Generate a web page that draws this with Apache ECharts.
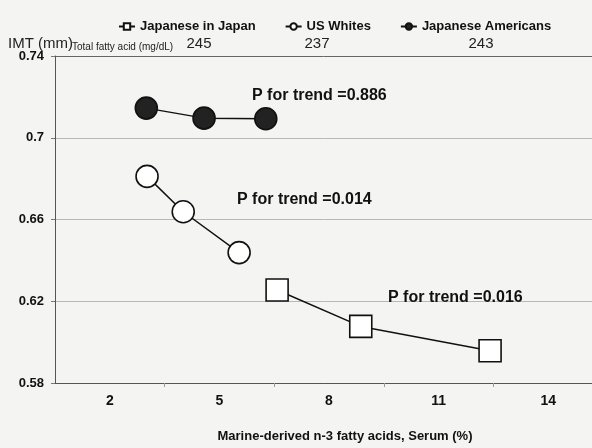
<!DOCTYPE html>
<html>
<head>
<meta charset="utf-8">
<script src="https://cdn.jsdelivr.net/npm/echarts@6/dist/echarts.min.js"></script>
<style>
html,body{margin:0;padding:0;background:#f4f4f2;}
#c{width:592px;height:448px;}
</style>
</head>
<body>
<div id="c"></div>
<script>
// Data
const seriesNames = ['Japanese in Japan', 'US Whites', 'Japanese Americans'];
const japanJapanX = [6.58, 8.87, 12.41];
const japanJapanY = [0.6255, 0.6077, 0.5958];
const usWhitesX = [3.02, 4.01, 5.54];
const usWhitesY = [0.6811, 0.6638, 0.6438];
const japanAmericansX = [3.0, 4.58, 6.27];
const japanAmericansY = [0.7145, 0.7096, 0.7093];
const xTickLabels = [2, 5, 8, 11, 14];
const xMinorTicks = [3.5, 6.5, 9.5, 12.5];
const yTickLabels = [0.58, 0.62, 0.66, 0.70, 0.74];
const totalFattyAcid = ['245', '237', '243'];
const trendTexts = ['P for trend =0.886', 'P for trend =0.014', 'P for trend =0.016'];

const FF = 'Liberation Sans, Arial, sans-serif';
const zip = (xs, ys) => xs.map((x, i) => [x, ys[i]]);

function mkSeries(name, xs, ys, symbol, fill) {
  return {
    name: name,
    type: 'line',
    data: zip(xs, ys),
    symbol: symbol,
    symbolSize: 22,
    lineStyle: { color: '#111', width: 1.5 },
    itemStyle: { color: fill, borderColor: '#111', borderWidth: 1.6 },
    emphasis: { disabled: true },
    z: 3
  };
}

const chart = echarts.init(document.getElementById('c'), null, { renderer: 'canvas' });
chart.setOption({
  backgroundColor: '#f4f4f2',
  animation: false,
  textStyle: { fontFamily: FF },
  legend: {
    data: seriesNames,
    left: 113,
    top: 15,
    itemWidth: 16,
    itemHeight: 8,
    itemGap: 29,
    textStyle: { fontFamily: FF, fontSize: 13, fontWeight: 'bold', color: '#111' }
  },
  grid: { left: 55, right: 0, top: 56, bottom: 64, containLabel: false },
  xAxis: {
    type: 'value',
    min: 0.5,
    max: 15.2,
    name: 'Marine-derived n-3 fatty acids, Serum (%)',
    nameLocation: 'middle',
    nameGap: 47,
    nameTextStyle: { fontFamily: FF, fontSize: 13, fontWeight: 'bold', color: '#111', padding: [0, 0, 0, 43] },
    axisLine: { show: true, lineStyle: { color: '#555', width: 1 } },
    axisTick: { show: true, customValues: xMinorTicks, length: 4, lineStyle: { color: '#999' } },
    axisLabel: { customValues: xTickLabels, margin: 11, fontFamily: FF, fontSize: 14, fontWeight: 'bold', color: '#111' },
    splitLine: { show: false }
  },
  yAxis: {
    type: 'value',
    min: 0.58,
    max: 0.74,
    axisLine: { show: true, lineStyle: { color: '#555', width: 1 } },
    axisTick: { show: true, customValues: yTickLabels, length: 4, lineStyle: { color: '#777' } },
    axisLabel: { customValues: yTickLabels, margin: 11, fontFamily: FF, fontSize: 13, fontWeight: 'bold', color: '#111' },
    splitLine: { show: true, lineStyle: { color: ['#555', '#b8b8b8', '#b8b8b8', '#b8b8b8', '#666'], width: 1 } }
  },
  series: [
    mkSeries(seriesNames[0], japanJapanX, japanJapanY, 'rect', '#fff'),
    mkSeries(seriesNames[1], usWhitesX, usWhitesY, 'circle', '#fff'),
    mkSeries(seriesNames[2], japanAmericansX, japanAmericansY, 'circle', '#222')
  ],
  graphic: [
    { type: 'text', left: 8, top: 36, style: { text: 'IMT (mm)', font: '15px ' + FF, fill: '#222' } },
    { type: 'text', left: 72, top: 42, style: { text: 'Total fatty acid (mg/dL)', font: '10px ' + FF, fill: '#222' } },
    { type: 'text', x: 199, y: 44, style: { text: totalFattyAcid[0], font: '15px ' + FF, fill: '#222', align: 'center', verticalAlign: 'middle' } },
    { type: 'text', x: 317, y: 44, style: { text: totalFattyAcid[1], font: '15px ' + FF, fill: '#222', align: 'center', verticalAlign: 'middle' } },
    { type: 'text', x: 481, y: 44, style: { text: totalFattyAcid[2], font: '15px ' + FF, fill: '#222', align: 'center', verticalAlign: 'middle' } },
    { type: 'text', x: 252, y: 96, z: 10, style: { text: trendTexts[0], font: 'bold 16px ' + FF, fill: '#111', align: 'left', verticalAlign: 'middle' } },
    { type: 'text', x: 237, y: 200, z: 10, style: { text: trendTexts[1], font: 'bold 16px ' + FF, fill: '#111', align: 'left', verticalAlign: 'middle' } },
    { type: 'text', x: 388, y: 298, z: 10, style: { text: trendTexts[2], font: 'bold 16px ' + FF, fill: '#111', align: 'left', verticalAlign: 'middle' } }
  ]
});
</script>
</body>
</html>
